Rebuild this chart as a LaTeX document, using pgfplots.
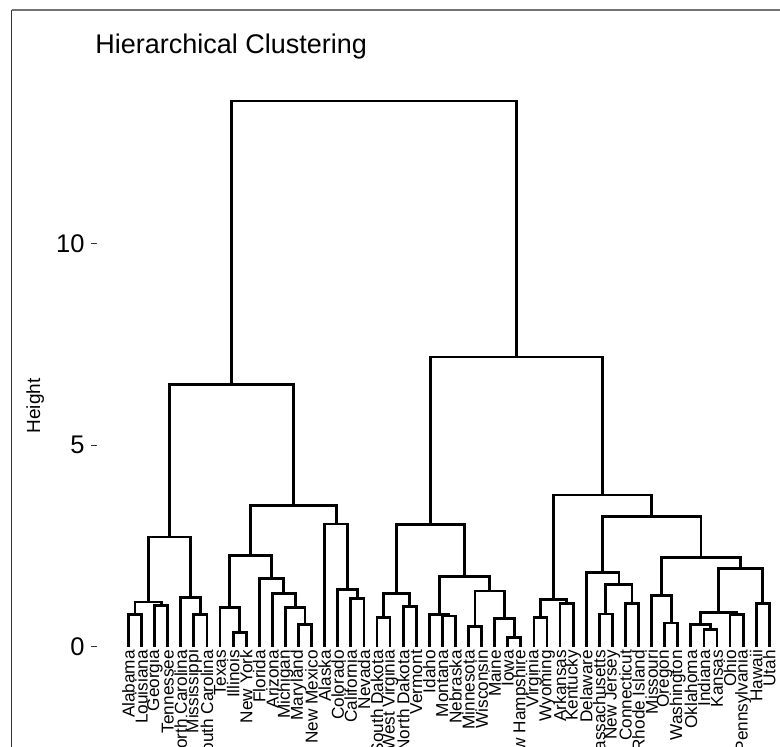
\documentclass[border=0pt]{standalone}
\usepackage{fontspec}
\setmainfont{Liberation Sans}
\usepackage{pgfplots}
\pgfplotsset{compat=1.18}
\pgfplotsset{dend/.style={black,solid,mark=none,line width=1.4bp,line join=miter}}
\begin{document}
\begin{tikzpicture}
\useasboundingbox (-48.5bp,-50.15bp) rectangle (341.5bp,323.35bp);
\fill[white] (-48.5bp,-50.15bp) rectangle (341.5bp,323.35bp);
\draw[black!55, line width=1bp] (-42.65bp,318.35bp) -- (341.5bp,318.35bp);
\draw[black!80, line width=0.6bp] (-42.65bp,-50.15bp) -- (-42.65bp,318.35bp);
\node[anchor=base west, inner sep=0pt, font=\fontsize{13.5bp}{16bp}\selectfont] at (-1bp,296.7bp) {Hierarchical Clustering};
\node[anchor=base, rotate=90, inner sep=0pt, font=\fontsize{9.5bp}{11bp}\selectfont] at (-28.5bp,120.35bp) {Height};
\begin{axis}[
  scale only axis, width=341.5bp, height=293.35bp,
  xmin=-1.409, xmax=50.817, ymin=0, ymax=14.544,
  axis lines*=left, axis line style={draw=none},
  clip=false,
  xtick={1,...,50},
  xticklabels={Alabama,Louisiana,Georgia,Tennessee,North Carolina,Mississippi,South Carolina,Texas,Illinois,New York,Florida,Arizona,Michigan,Maryland,New Mexico,Alaska,Colorado,California,Nevada,South Dakota,West Virginia,North Dakota,Vermont,Idaho,Montana,Nebraska,Minnesota,Wisconsin,Maine,Iowa,New Hampshire,Virginia,Wyoming,Arkansas,Kentucky,Delaware,Massachusetts,New Jersey,Connecticut,Rhode Island,Missouri,Oregon,Washington,Oklahoma,Indiana,Kansas,Ohio,Pennsylvania,Hawaii,Utah},
  x tick label style={rotate=90, anchor=east, inner sep=1.5bp, font=\fontsize{8.6bp}{10bp}\selectfont},
  xtick style={draw=none},
  ytick={0,5,10},
  ytick align=outside, major tick length=3bp,
  ytick style={draw=black!80, line width=0.5bp},
  y tick label style={anchor=east, inner sep=0pt, xshift=-3bp, font=\fontsize{12.75bp}{15bp}\selectfont},
  /pgf/number format/assume math mode=true,
]
% southern cluster
\addplot[dend] coordinates {(1,0) (1,0.79) (2,0.79) (2,0)};
\addplot[dend] coordinates {(3,0) (3,1.02) (4,1.02) (4,0)};
\addplot[dend] coordinates {(1.5,0.79) (1.5,1.11) (3.5,1.11) (3.5,1.02)};
\addplot[dend] coordinates {(6,0) (6,0.80) (7,0.80) (7,0)};
\addplot[dend] coordinates {(5,0) (5,1.22) (6.5,1.22) (6.5,0.80)};
\addplot[dend] coordinates {(2.5,1.11) (2.5,2.72) (5.75,2.72) (5.75,1.22)};
% Texas / Florida
\addplot[dend] coordinates {(9,0) (9,0.36) (10,0.36) (10,0)};
\addplot[dend] coordinates {(8,0) (8,0.97) (9.5,0.97) (9.5,0.36)};
\addplot[dend] coordinates {(14,0) (14,0.56) (15,0.56) (15,0)};
\addplot[dend] coordinates {(13,0) (13,0.98) (14.5,0.98) (14.5,0.56)};
\addplot[dend] coordinates {(12,0) (12,1.31) (13.75,1.31) (13.75,0.98)};
\addplot[dend] coordinates {(11,0) (11,1.70) (12.875,1.70) (12.875,1.31)};
\addplot[dend] coordinates {(8.75,0.97) (8.75,2.26) (11.9375,2.26) (11.9375,1.70)};
% Alaska group
\addplot[dend] coordinates {(18,0) (18,1.20) (19,1.20) (19,0)};
\addplot[dend] coordinates {(17,0) (17,1.41) (18.5,1.41) (18.5,1.20)};
\addplot[dend] coordinates {(16,0) (16,3.04) (17.75,3.04) (17.75,1.41)};
\addplot[dend] coordinates {(10.34375,2.26) (10.34375,3.51) (16.875,3.51) (16.875,3.04)};
\addplot[dend] coordinates {(4.125,2.72) (4.125,6.49) (13.609375,6.49) (13.609375,3.51)};
% middle cluster
\addplot[dend] coordinates {(20,0) (20,0.72) (21,0.72) (21,0)};
\addplot[dend] coordinates {(22,0) (22,0.99) (23,0.99) (23,0)};
\addplot[dend] coordinates {(20.5,0.72) (20.5,1.32) (22.5,1.32) (22.5,0.99)};
\addplot[dend] coordinates {(25,0) (25,0.76) (26,0.76) (26,0)};
\addplot[dend] coordinates {(24,0) (24,0.80) (25.5,0.80) (25.5,0.76)};
\addplot[dend] coordinates {(27,0) (27,0.51) (28,0.51) (28,0)};
\addplot[dend] coordinates {(30,0) (30,0.23) (31,0.23) (31,0)};
\addplot[dend] coordinates {(29,0) (29,0.69) (30.5,0.69) (30.5,0.23)};
\addplot[dend] coordinates {(27.5,0.51) (27.5,1.38) (29.75,1.38) (29.75,0.69)};
\addplot[dend] coordinates {(24.75,0.80) (24.75,1.75) (28.625,1.75) (28.625,1.38)};
\addplot[dend] coordinates {(21.5,1.32) (21.5,3.02) (26.6875,3.02) (26.6875,1.75)};
% right cluster
\addplot[dend] coordinates {(32,0) (32,0.72) (33,0.72) (33,0)};
\addplot[dend] coordinates {(34,0) (34,1.08) (35,1.08) (35,0)};
\addplot[dend] coordinates {(32.5,0.72) (32.5,1.18) (34.5,1.18) (34.5,1.08)};
\addplot[dend] coordinates {(37,0) (37,0.81) (38,0.81) (38,0)};
\addplot[dend] coordinates {(39,0) (39,1.08) (40,1.08) (40,0)};
\addplot[dend] coordinates {(37.5,0.81) (37.5,1.55) (39.5,1.55) (39.5,1.08)};
\addplot[dend] coordinates {(36,0) (36,1.83) (38.5,1.83) (38.5,1.55)};
\addplot[dend] coordinates {(42,0) (42,0.59) (43,0.59) (43,0)};
\addplot[dend] coordinates {(41,0) (41,1.26) (42.5,1.26) (42.5,0.59)};
\addplot[dend] coordinates {(45,0) (45,0.43) (46,0.43) (46,0)};
\addplot[dend] coordinates {(44,0) (44,0.55) (45.5,0.55) (45.5,0.43)};
\addplot[dend] coordinates {(47,0) (47,0.79) (48,0.79) (48,0)};
\addplot[dend] coordinates {(44.75,0.55) (44.75,0.85) (47.5,0.85) (47.5,0.79)};
\addplot[dend] coordinates {(49,0) (49,1.08) (50,1.08) (50,0)};
\addplot[dend] coordinates {(46.125,0.85) (46.125,1.94) (49.5,1.94) (49.5,1.08)};
\addplot[dend] coordinates {(41.75,1.26) (41.75,2.22) (47.8125,2.22) (47.8125,1.94)};
\addplot[dend] coordinates {(37.25,1.83) (37.25,3.22) (44.78125,3.22) (44.78125,2.22)};
\addplot[dend] coordinates {(33.5,1.18) (33.5,3.76) (41.015625,3.76) (41.015625,3.22)};
\addplot[dend] coordinates {(24.09375,3.02) (24.09375,7.18) (37.2578125,7.18) (37.2578125,3.76)};
% root
\addplot[dend] coordinates {(8.8671875,6.49) (8.8671875,13.53) (30.67578125,13.53) (30.67578125,7.18)};
\end{axis}
\end{tikzpicture}
\end{document}
